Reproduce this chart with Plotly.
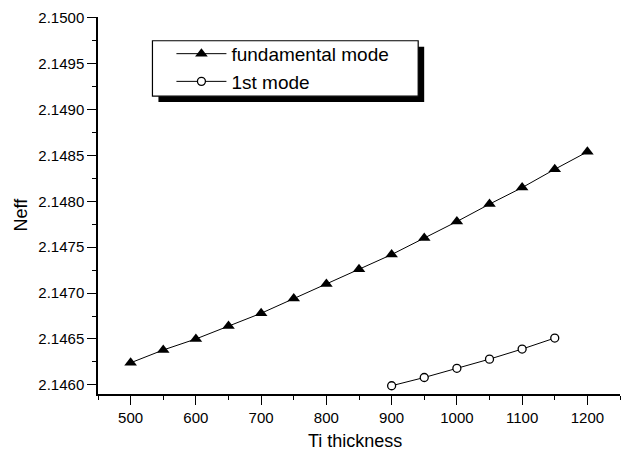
import plotly.graph_objects as go

# Data
thickness_fund = [500, 550, 600, 650, 700, 750, 800, 850, 900, 950, 1000, 1050, 1100, 1150, 1200]
neff_fund = [2.14624, 2.14638, 2.14650, 2.14664, 2.14678, 2.14694, 2.14710, 2.14726,
             2.14742, 2.14760, 2.14778, 2.14797, 2.14815, 2.14835, 2.14854]
thickness_first = [900, 950, 1000, 1050, 1100, 1150]
neff_first = [2.14599, 2.14608, 2.14618, 2.14628, 2.14639, 2.14651]

x_ticks = [500, 600, 700, 800, 900, 1000, 1100, 1200]
y_ticks = [2.1460, 2.1465, 2.1470, 2.1475, 2.1480, 2.1485, 2.1490, 2.1495, 2.1500]

FONT = "Arial, 'Liberation Sans', sans-serif"

fig = go.Figure()
fig.add_trace(go.Scatter(
    x=thickness_fund, y=neff_fund, mode="lines+markers", name="fundamental mode",
    line=dict(color="black", width=1),
    marker=dict(symbol="triangle-up", size=11, color="black"),
))
fig.add_trace(go.Scatter(
    x=thickness_first, y=neff_first, mode="lines+markers", name="1st mode",
    line=dict(color="black", width=1),
    marker=dict(symbol="circle", size=8, color="white", line=dict(color="black", width=1.3)),
))

L, R, T, B = 97.5, 9, 13, 61
W, H = 629, 455
pw, ph = W - L - R, H - T - B

def px(x):
    return (x - L) / pw

def py(y):
    return (H - B - y) / ph

fig.update_layout(
    width=W, height=H,
    margin=dict(l=L, r=R, t=T, b=B, pad=0),
    paper_bgcolor="white", plot_bgcolor="white",
    font=dict(family=FONT, color="black", size=15),
    showlegend=True,
    legend=dict(
        x=px(171), y=py(31), xanchor="left", yanchor="top",
        bgcolor="rgba(0,0,0,0)", borderwidth=0,
        font=dict(family=FONT, size=19, color="black"),
        itemwidth=50, tracegroupgap=0,
    ),
    xaxis=dict(
        range=[450, 1250], tickvals=x_ticks, ticktext=[str(v) for v in x_ticks],
        showgrid=False, zeroline=False, showline=True, linecolor="black", linewidth=1.5,
        ticks="outside", ticklen=9, tickwidth=1.3, tickcolor="black",
        minor=dict(ticks="outside", ticklen=4, dtick=50, tick0=0, tickcolor="black", tickwidth=1.1),
        tickfont=dict(size=15),
    ),
    yaxis=dict(
        range=[2.1459, 2.15001], tickvals=y_ticks, ticktext=[f"{v:.4f}" for v in y_ticks],
        showgrid=False, zeroline=False, showline=True, linecolor="black", linewidth=1.5,
        ticks="outside", ticklen=9, tickwidth=1.3, tickcolor="black",
        minor=dict(ticks="outside", ticklen=4, dtick=0.00025, tick0=2.146, tickcolor="black", tickwidth=1.1),
        tickfont=dict(size=15),
    ),
    annotations=[
        dict(text="Ti thickness", xref="paper", yref="paper", x=px(355), y=py(442),
             xanchor="center", yanchor="middle", showarrow=False, font=dict(size=18)),
        dict(text="Neff", xref="paper", yref="paper", x=px(20), y=py(213),
             xanchor="center", yanchor="middle", textangle=-90, showarrow=False,
             font=dict(size=18)),
    ],
    shapes=[
        # legend drop shadow
        dict(type="rect", xref="paper", yref="paper",
             x0=px(158), x1=px(424), y0=py(99), y1=py(43),
             fillcolor="black", line=dict(width=0), layer="above"),
        # legend frame
        dict(type="rect", xref="paper", yref="paper",
             x0=px(152), x1=px(418), y0=py(93), y1=py(37),
             fillcolor="white", line=dict(color="black", width=1.2), layer="above"),
    ],
)

fig.write_html("out.html")
